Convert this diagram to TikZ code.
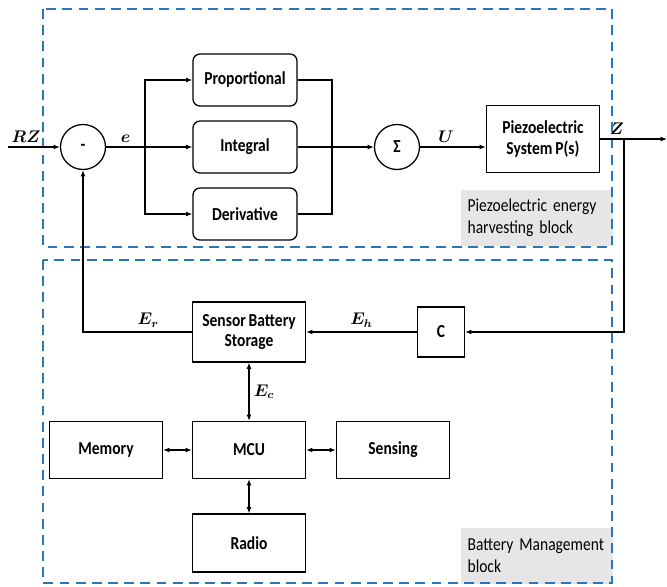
\documentclass[tikz,border=0pt]{standalone}
\usepackage{amsmath}
\usepackage{fontspec}
\setmainfont{Carlito}[FakeStretch=0.85, WordSpace=0.8]
\usetikzlibrary{arrows.meta}
\definecolor{frameblue}{RGB}{46,117,182}
\definecolor{taggray}{RGB}{231,230,230}

\begin{document}
\begin{tikzpicture}[x=0.025cm, y=-0.025cm, line width=0.8pt, >={Latex[length=4.5pt,width=3.5pt]}]

% styles
\tikzstyle{blk}=[draw, line width=0.9pt, minimum width=2.825cm, align=center, font=\fontsize{13}{14.5}\selectfont\bfseries]
\tikzstyle{pid}=[blk, rounded corners=5pt, minimum width=2.6cm, minimum height=1.3cm]
\tikzstyle{junc}=[draw, circle, line width=0.9pt, minimum size=1.125cm, inner sep=0pt, font=\fontsize{13}{14}\selectfont\bfseries]
\tikzstyle{sig}=[inner sep=1pt, font=\fontsize{12}{14}\selectfont]
\tikzstyle{tag}=[fill=taggray, anchor=north west, minimum width=3.8cm, minimum height=1.4cm, inner xsep=5pt, text width=3.45cm, align=left, font=\fontsize{13}{15.6}\selectfont]
\tikzstyle{region}=[draw=frameblue, line width=1.4pt, dash pattern=on 7pt off 4.5pt]

\useasboundingbox (0,0) rectangle (667,587);

% region tags and frames
\node[tag] (tagharv) at (460,189) {Piezoelectric energy\\harvesting block};
\node[tag] (tagbatt) at (460,527) {Battery Management\\block};
\draw[region] (43,9) rectangle (612,247);
\draw[region] (43,260) rectangle (612,583);

% controller
\node[junc] (minus) at (83,147) {-};
\node[pid] (prop) at (245,80) {Proportional};
\node[pid] (integ) at (245,147) {Integral};
\node[pid] (deriv) at (245,214) {Derivative};
\node[junc] (sum) at (397,147) {Σ};
\node[blk, minimum height=1.675cm] (piezo) at (543,139) {Piezoelectric\\System P(s)};

\coordinate (in) at (8,147);
\coordinate (split) at (145,147);
\coordinate (merge) at (332,147);
\coordinate (zsplit) at (624,139);
\coordinate (out) at (667,139);

\draw[->] (in) -- (minus.west) node[sig, pos=0.35, above=2pt] (rz) {$\boldsymbol{RZ}$};
\draw (minus.east) -- (split) node[sig, midway, above=2pt] (e) {$\boldsymbol{e}$};
\draw[->] (split) |- (prop.west);
\draw[->] (split) -- (integ.west);
\draw[->] (split) |- (deriv.west);
\draw (prop.east) -| (merge) |- (deriv.east);
\draw[->] (integ.east) -- (sum.west);
\draw[->] (sum.east) -- (piezo.west |- sum) node[sig, midway, above=2pt, xshift=-5pt] (u) {$\boldsymbol{U}$};
\draw[->] (piezo.east) -- (out);
\node[sig, above=2pt] (z) at (617,139) {$\boldsymbol{Z}$};

% battery management
\node[blk, minimum width=1.175cm, minimum height=1.25cm] (c) at (441,332) {C};
\node[blk, minimum height=1.5cm] (sensor) at (249,332) {Sensor Battery\\Storage};
\node[blk, minimum height=1.425cm] (mcu) at (249,450) {MCU};
\node[blk, minimum height=1.425cm] (memory) at (106,450) {Memory};
\node[blk, minimum height=1.425cm] (sensing) at (393,450) {Sensing};
\node[blk, minimum height=1.45cm] (radio) at (249,543) {Radio};

\draw[->] (zsplit) |- (c.east);
\draw[->] (c.west) -- (sensor.east) node[sig, midway, above=2pt] (eh) {$\boldsymbol{E_h}$};
\draw[->] (sensor.west) -| (minus.south) node[sig, pos=0.2, above=2pt] (er) {$\boldsymbol{E_r}$};
\draw[<->] (sensor.south) -- (mcu.north) node[sig, midway, right=2pt] (ec) {$\boldsymbol{E_c}$};
\draw[<->] (memory.east) -- (mcu.west);
\draw[<->] (mcu.east) -- (sensing.west);
\draw[<->] (mcu.south) -- (radio.north);

\end{tikzpicture}
\end{document}
